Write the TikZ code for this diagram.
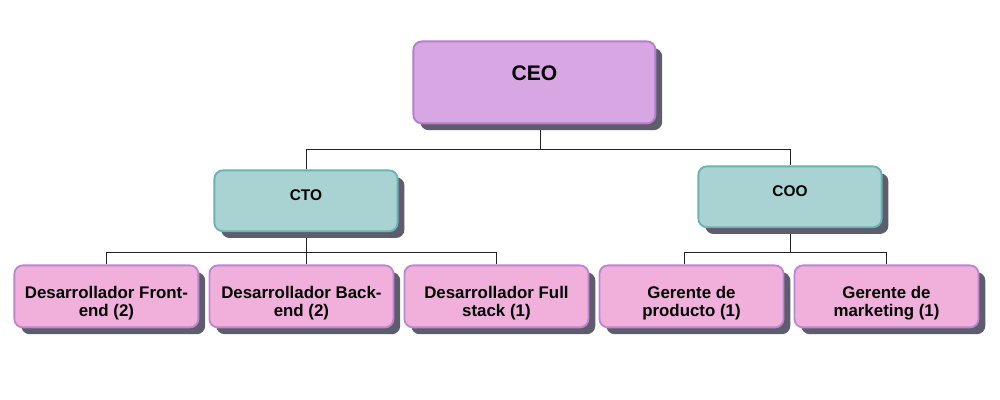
\documentclass[tikz,border=0pt]{standalone}
\usepackage{fontspec}
\setmainfont{Liberation Sans}
\usepackage{tikz}
\usetikzlibrary{positioning,shadows,backgrounds,calc}
\definecolor{orgCeo}{HTML}{D8A6E3}
\definecolor{orgCeoD}{HTML}{B67DC9}
\definecolor{orgMgr}{HTML}{A9D3D3}
\definecolor{orgMgrD}{HTML}{6BB2B2}
\definecolor{orgTeam}{HTML}{F1B0DC}
\definecolor{orgTeamD}{HTML}{BC86D0}
\definecolor{orgShadow}{HTML}{5E5D6D}
\definecolor{orgLine}{HTML}{222222}
\tikzset{
  org-box/.style={
    draw, line width=1.3pt, rounded corners=6pt,
    font=\bfseries, align=center, inner sep=2pt,
    drop shadow={shadow xshift=0.17cm, shadow yshift=-0.17cm,
      fill=orgShadow, opacity=1}
  },
  org-ceo/.style={org-box, draw=orgCeoD, fill=orgCeo,
    minimum width=6.05cm, minimum height=2.05cm,
    font=\fontsize{15}{18}\selectfont\bfseries,
    text height=0.38cm, text depth=0.48cm},
  org-mgr/.style={org-box, draw=orgMgrD, fill=orgMgr,
    minimum width=4.58cm, minimum height=1.52cm,
    font=\fontsize{11}{13}\selectfont\bfseries,
    text height=0.27cm, text depth=0.29cm},
  org-team/.style={org-box, draw=orgTeamD, fill=orgTeam,
    minimum width=4.6cm, minimum height=1.55cm, inner ysep=0pt,
    font=\fontsize{12}{12.5}\selectfont\bfseries,
    text height=1.15cm, text depth=0.15cm},
  org-line/.style={draw=orgLine, line width=0.6pt}
}
\begin{document}
\begin{tikzpicture}[node distance=0.23cm]
\useasboundingbox (0,0) rectangle (25,-10);

% top
\node[org-ceo] (ceo) at (13.36,-2.06) {CEO};

% second level
\node[org-mgr] (cto) at (7.65,-5.02) {CTO};
\node[org-mgr] (coo) at (19.75,-4.92) {COO};

% teams
\node[org-team] (front) at (2.66,-7.41) {Desarrollador Front-\\end (2)};
\node[org-team, right=of front] (back) {Desarrollador Back-\\end (2)};
\node[org-team, right=of back] (full) {Desarrollador Full\\stack (1)};
\node[org-team, right=of full] (prod) {Gerente de\\producto (1)};
\node[org-team, right=of prod] (mkt) {Gerente de\\marketing (1)};

\coordinate (busTop) at ($(cto.north)+(0,0.5)$);
\coordinate (busCto) at ($(cto.south)+(0,-0.5)$);
\coordinate (busCoo) at ($(coo.south)+(0,-0.62)$);

\begin{scope}[on background layer]
\draw[org-line] ([xshift=0.16cm]ceo.south) -- ([xshift=0.16cm]ceo.south |- busTop);
\draw[org-line] (cto) |- (busTop) -| (coo);
\draw[org-line] (cto) -- (cto |- back.north);
\draw[org-line] (front) |- (busCto) -| (full);
\draw[org-line] (coo) -- (coo |- busCoo);
\draw[org-line] ([xshift=-0.17cm]prod.north) |- (busCoo) -| (mkt);
\end{scope}
\end{tikzpicture}
\end{document}
